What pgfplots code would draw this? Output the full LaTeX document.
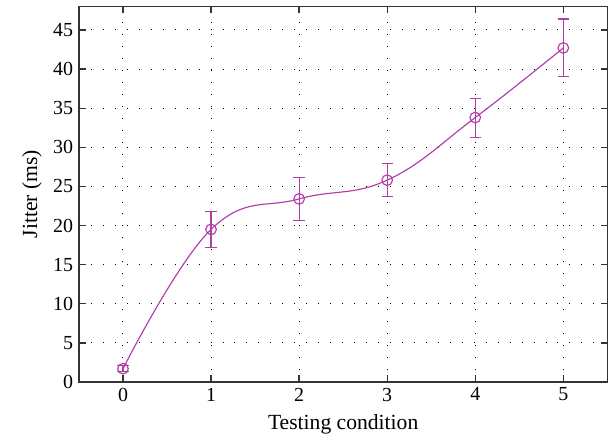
\documentclass[border={10pt 0pt 0pt 3.5pt}]{standalone}
\usepackage{fontspec}
\setmainfont{Liberation Serif}
\usepackage{pgfplots}
\pgfplotsset{compat=1.18}
\definecolor{jit}{RGB}{178,62,168}

\pgfplotstableread{
x   y     ep   em
0   1.7   0.4  0.4
1   19.5  2.3  2.3
2   23.4  2.7  2.8
3   25.8  2.1  2.1
4   33.8  2.4  2.5
5   42.7  3.7  3.7
}\jitter

\begin{document}
\begin{tikzpicture}
\begin{axis}[
    scale only axis,
    width=318pt, height=226pt,
    xmin=-0.5, xmax=5.5,
    ymin=0, ymax=48,
    xtick={0,...,5},
    ytick={0,5,...,45},
    tick align=inside,
    major tick length=4pt,
    tick style={black!80, line width=0.8pt},
    axis line style={line width=0.8pt, black!80},
    grid=major,
    major grid style={black, line width=0.6pt, dash pattern=on 0.6pt off 6.6pt},
    xlabel={Testing condition},
    ylabel={Jitter (ms)},
    every axis label/.append style={font=\fontsize{13}{15}\selectfont},
    ticklabel style={font=\fontsize{12}{14}\selectfont},
    /pgf/number format/assume math mode=true,
    xlabel style={yshift=-1pt},
    ylabel style={yshift=0pt},
]
\addplot[jit, line width=0.7pt, smooth, tension=0.7, mark=none, forget plot]
    table[x=x, y=y] {\jitter};
\addplot[jit, line width=0.7pt, only marks, mark=o, mark size=3.2pt,
    error bars/.cd, y dir=both, y explicit,
    error bar style={line width=0.7pt},
    error mark options={rotate=90, mark size=3.4pt, line width=0.7pt}]
    table[x=x, y=y, y error plus=ep, y error minus=em] {\jitter};
\end{axis}
\end{tikzpicture}
\end{document}
